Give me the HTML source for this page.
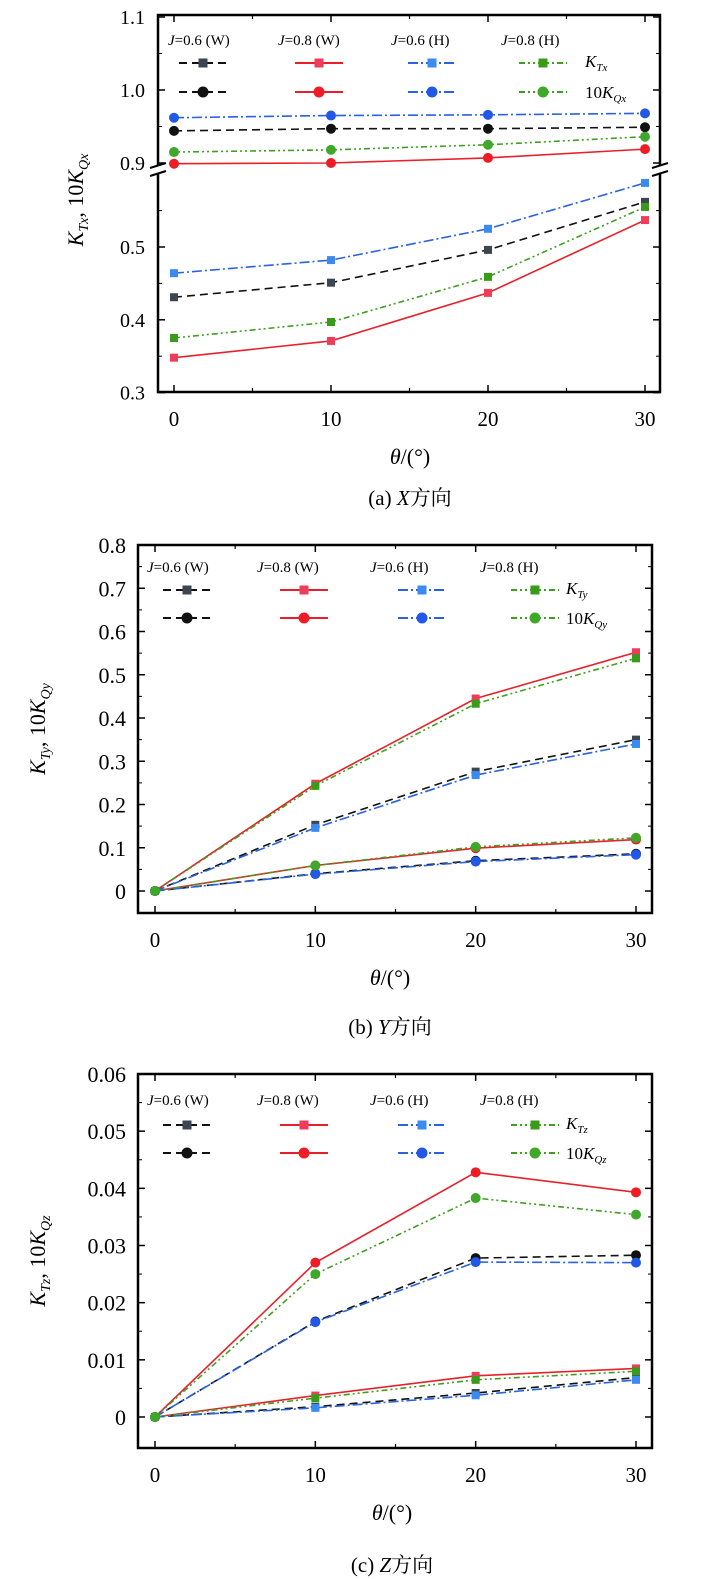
<!DOCTYPE html>
<html><head><meta charset="utf-8">
<style>
html,body{margin:0;padding:0;background:#fff;}
svg{display:block;font-family:"Liberation Serif","Noto Serif CJK SC",serif;}
</style></head>
<body>
<svg id="fig" width="709" height="1579" viewBox="0 0 709 1579" xmlns="http://www.w3.org/2000/svg"></svg>
<script>
// ---------- data ----------
const categories = [0, 10, 20, 30];
const xTickLabels = ["0", "10", "20", "30"];
const seriesNames = ["J=0.6 (W)", "J=0.8 (W)", "J=0.6 (H)", "J=0.8 (H)"];

// Panel (a) X direction
const aKT_W06 = [0.431, 0.451, 0.496, 0.562];
const aKT_W08 = [0.348, 0.371, 0.437, 0.537];
const aKT_H06 = [0.464, 0.482, 0.525, 0.588];
const aKT_H08 = [0.375, 0.397, 0.459, 0.555];
const aKQ_W06 = [0.944, 0.947, 0.947, 0.949];
const aKQ_W08 = [0.899, 0.900, 0.907, 0.919];
const aKQ_H06 = [0.962, 0.965, 0.966, 0.968];
const aKQ_H08 = [0.915, 0.918, 0.925, 0.936];
const aUpperTicks = ["0.9", "1.0", "1.1"];
const aLowerTicks = ["0.3", "0.4", "0.5"];

// Panel (b) Y direction
const bKT_W06 = [0, 0.153, 0.276, 0.350];
const bKT_W08 = [0, 0.248, 0.445, 0.552];
const bKT_H06 = [0, 0.146, 0.268, 0.340];
const bKT_H08 = [0, 0.243, 0.433, 0.538];
const bKQ_W06 = [0, 0.040, 0.070, 0.086];
const bKQ_W08 = [0, 0.059, 0.099, 0.119];
const bKQ_H06 = [0, 0.039, 0.068, 0.084];
const bKQ_H08 = [0, 0.059, 0.102, 0.123];
const bYTicks = ["0", "0.1", "0.2", "0.3", "0.4", "0.5", "0.6", "0.7", "0.8"];

// Panel (c) Z direction
const cKT_W06 = [0, 0.0018, 0.0042, 0.0069];
const cKT_W08 = [0, 0.00375, 0.0072, 0.0085];
const cKT_H06 = [0, 0.0016, 0.0038, 0.0065];
const cKT_H08 = [0, 0.0033, 0.0065, 0.0080];
const cKQ_W06 = [0, 0.0167, 0.0278, 0.0283];
const cKQ_W08 = [0, 0.0270, 0.0428, 0.0393];
const cKQ_H06 = [0, 0.0166, 0.0271, 0.0270];
const cKQ_H08 = [0, 0.0250, 0.0383, 0.0354];
const cYTicks = ["0", "0.01", "0.02", "0.03", "0.04", "0.05", "0.06"];

// ---------- helpers ----------
const NS = "http://www.w3.org/2000/svg";
const svg = document.getElementById("fig");
function mk(tag, attrs, parent) {
  const e = document.createElementNS(NS, tag);
  for (const k in attrs) e.setAttribute(k, attrs[k]);
  (parent || svg).appendChild(e);
  return e;
}
const styles = [
  {line: "#111", sq: "#3d4650", ci: "#111", dash: "8,5"},
  {line: "#e8202a", sq: "#ee3d5a", ci: "#ee1c24", dash: ""},
  {line: "#2a62e0", sq: "#3b8af0", ci: "#2158e8", dash: "10,3,2,3"},
  {line: "#3fa020", sq: "#3a9a1a", ci: "#3fa82a", dash: "6,3,2,3,2,3"}
];

function drawSeries(g, vals, sx, sy, st, marker, name) {
  const pts = vals.map((v, i) => sx(categories[i]) + "," + sy(v)).join(" ");
  const pl = mk("polyline", {points: pts, fill: "none", stroke: st.line, "stroke-width": 1.6, "stroke-dasharray": st.dash}, g);
  
  
  vals.forEach((v, i) => {
    let m;
    if (marker === "sq") {
      m = mk("rect", {x: sx(categories[i]) - 4, y: sy(v) - 4, width: 8, height: 8, fill: st.sq}, g);
    } else {
      m = mk("circle", {cx: sx(categories[i]), cy: sy(v), r: 5, fill: st.ci}, g);
    }
    
    
  });
}

function legend(g, P, sub) {
  seriesNames.forEach((s, i) => {
    const t = mk("text", {x: P.legX[i], y: P.legY, "font-size": 15}, g);
    t.innerHTML = '<tspan font-style="italic">J</tspan>' + s.slice(1);
    
    
    const cx = P.legMk[i];
    [0, 1].forEach(r => {
      const y = P.legRows[r];
      const ln = mk("line", {x1: cx - 24, x2: cx + 24, y1: y, y2: y, stroke: styles[i].line, "stroke-width": 2, "stroke-dasharray": styles[i].dash}, g);
      
      
      if (r === 0) mk("rect", {x: cx - 4.5, y: y - 4.5, width: 9, height: 9, fill: styles[i].sq}, g);
      else mk("circle", {cx: cx, cy: y, r: 5.5, fill: styles[i].ci}, g);
    });
  });
  const k1 = mk("text", {x: P.legLab, y: P.legRows[0] + 4, "font-size": 17, "font-style": "italic"}, g);
  k1.innerHTML = 'K<tspan font-size="11" dy="4">T' + sub + '</tspan>';
  
  
  const k2 = mk("text", {x: P.legLab, y: P.legRows[1] + 6, "font-size": 17}, g);
  k2.innerHTML = '10<tspan font-style="italic">K</tspan><tspan font-size="11" dy="4" font-style="italic">Q' + sub + '</tspan>';
  
  
}

function xAxis(g, P, sx) {
  const minor = [5, 15, 25];
  categories.forEach((c, i) => {
    mk("line", {x1: sx(c), x2: sx(c), y1: P.bottom, y2: P.bottom - 7, stroke: "#000", "stroke-width": 1.5}, g);
    mk("line", {x1: sx(c), x2: sx(c), y1: P.top, y2: P.top + 7, stroke: "#000", "stroke-width": 1.5}, g);
    const t = mk("text", {x: sx(c), y: P.bottom + 34, "font-size": 21, "text-anchor": "middle"}, g);
    t.textContent = xTickLabels[i];
    
    
  });
  minor.forEach(c => {
    mk("line", {x1: sx(c), x2: sx(c), y1: P.bottom, y2: P.bottom - 4, stroke: "#000", "stroke-width": 1.2}, g);
    mk("line", {x1: sx(c), x2: sx(c), y1: P.top, y2: P.top + 4, stroke: "#000", "stroke-width": 1.2}, g);
  });
  const xt = mk("text", {x: P.xTitleX, y: P.bottom + 72, "font-size": 22, "text-anchor": "middle"}, g);
  xt.innerHTML = '<tspan font-style="italic">θ</tspan>/(°)';
  
  
  const cap = mk("text", {x: P.xTitleX, y: P.bottom + P.capOff, "font-size": 21, "text-anchor": "middle"}, g);
  cap.innerHTML = P.cap[0] + ' <tspan font-style="italic">' + P.cap[1] + '</tspan>方向';
  
  
}

function yTitle(g, x, y, sub) {
  const t = mk("text", {x: 0, y: 0, "font-size": 22, "text-anchor": "middle", transform: "translate(" + x + "," + y + ") rotate(-90)"}, g);
  t.innerHTML = '<tspan font-style="italic">K</tspan><tspan font-style="italic" font-size="14" dy="5">T' + sub + '</tspan><tspan dy="-5">, 10</tspan><tspan font-style="italic">K</tspan><tspan font-style="italic" font-size="14" dy="5">Q' + sub + '</tspan>';
  
  
}

// ---------- Panel A (broken axis) ----------
(function () {
  const P = {left: 158, right: 660, top: 15, bottom: 392, x0: 174, x30: 645, xTitleX: 410, cap: ["(a)", "X"], capOff: 113,
    legX: [168, 278, 391, 501], legY: 45, legRows: [63, 92], legMk: [203, 319, 432, 543], legLab: 585};
  const g = mk("g", {});  
  const sx = v => P.x0 + (v - categories[0]) / (categories[3] - categories[0]) * (P.x30 - P.x0);
  const syU = v => 90 - (v - 1.0) * 730;
  const syL = v => 247 - (v - 0.5) * 728;
  mk("rect", {x: P.left, y: P.top, width: P.right - P.left, height: P.bottom - P.top, fill: "none", stroke: "#000", "stroke-width": 2.5}, g);
  mk("rect", {x: P.left - 3, y: 166, width: 6, height: 8, fill: "#fff"}, g);
  mk("rect", {x: P.right - 3, y: 166, width: 6, height: 8, fill: "#fff"}, g);
  [P.left, P.right].forEach(x => {
    mk("line", {x1: x - 8, y1: 168, x2: x + 8, y2: 163, stroke: "#000", "stroke-width": 2}, g);
    mk("line", {x1: x - 8, y1: 176, x2: x + 8, y2: 171, stroke: "#000", "stroke-width": 2}, g);
  });
  const up = [0.9, 1.0, 1.1], lo = [0.3, 0.4, 0.5];
  [[up, syU, aUpperTicks], [lo, syL, aLowerTicks]].forEach(([vals, sy, labs]) => {
    vals.forEach((v, i) => {
      mk("line", {x1: P.left, x2: P.left + 7, y1: sy(v), y2: sy(v), stroke: "#000", "stroke-width": 1.5}, g);
      mk("line", {x1: P.right, x2: P.right - 7, y1: sy(v), y2: sy(v), stroke: "#000", "stroke-width": 1.5}, g);
      const t = mk("text", {x: P.left - 13, y: sy(v) + 7, "font-size": 20, "text-anchor": "end"}, g);
      t.textContent = labs[i];
      
      
    });
  });
  [0.95, 1.05].forEach(v => { mk("line", {x1: P.left, x2: P.left + 4, y1: syU(v), y2: syU(v), stroke: "#000"}, g); mk("line", {x1: P.right, x2: P.right - 4, y1: syU(v), y2: syU(v), stroke: "#000"}, g); });
  [0.35, 0.45, 0.55].forEach(v => { mk("line", {x1: P.left, x2: P.left + 4, y1: syL(v), y2: syL(v), stroke: "#000"}, g); mk("line", {x1: P.right, x2: P.right - 4, y1: syL(v), y2: syL(v), stroke: "#000"}, g); });
  xAxis(g, P, sx);
  yTitle(g, 83, 200, "x");
  legend(g, P, "x");
  const kt = [aKT_W06, aKT_W08, aKT_H06, aKT_H08], kq = [aKQ_W06, aKQ_W08, aKQ_H06, aKQ_H08];
  kq.forEach((s, i) => drawSeries(g, s, sx, syU, styles[i], "ci", "kq-series"));
  kt.forEach((s, i) => drawSeries(g, s, sx, syL, styles[i], "sq", "kt-series"));
})();

// ---------- Panels B & C ----------
function panel(P, ticks, yMax, yMin, kt, kq, sub, name) {
  const g = mk("g", {});  
  const sx = v => P.x0 + (v - categories[0]) / (categories[3] - categories[0]) * (P.x30 - P.x0);
  const sy = v => P.y0 - v / yMax * (P.y0 - P.top);
  mk("rect", {x: P.left, y: P.top, width: P.right - P.left, height: P.bottom - P.top, fill: "none", stroke: "#000", "stroke-width": 2.5}, g);
  const step = yMax / (ticks.length - 1);
  ticks.forEach((lab, i) => {
    const v = i * step;
    mk("line", {x1: P.left, x2: P.left + 7, y1: sy(v), y2: sy(v), stroke: "#000", "stroke-width": 1.5}, g);
    mk("line", {x1: P.right, x2: P.right - 7, y1: sy(v), y2: sy(v), stroke: "#000", "stroke-width": 1.5}, g);
    const t = mk("text", {x: P.left - 12, y: sy(v) + 8, "font-size": 22, "text-anchor": "end"}, g);
    t.textContent = lab;
    
    
  });
  for (let i = 0; i < ticks.length - 1; i++) {
    const v = (i + 0.5) * step;
    mk("line", {x1: P.left, x2: P.left + 4, y1: sy(v), y2: sy(v), stroke: "#000"}, g);
    mk("line", {x1: P.right, x2: P.right - 4, y1: sy(v), y2: sy(v), stroke: "#000"}, g);
  }
  xAxis(g, P, sx);
  yTitle(g, P.yTitleX, (P.top + P.bottom) / 2, sub);
  legend(g, P, sub);
  kt.forEach((s, i) => drawSeries(g, s, sx, sy, styles[i], "sq", "kt-series"));
  kq.forEach((s, i) => drawSeries(g, s, sx, sy, styles[i], "ci", "kq-series"));
}
panel({left: 138, right: 652, top: 545, bottom: 913, y0: 891, x0: 155, x30: 636, xTitleX: 390, cap: ["(b)", "Y"], capOff: 121, yTitleX: 45,
  legX: [147, 257, 370, 480], legY: 572, legRows: [590, 618], legMk: [187, 304, 422, 535], legLab: 566},
  bYTicks, 0.8, -0.05, [bKT_W06, bKT_W08, bKT_H06, bKT_H08], [bKQ_W06, bKQ_W08, bKQ_H06, bKQ_H08], "y", "panel-b-chart");
panel({left: 138, right: 652, top: 1074, bottom: 1448, y0: 1417, x0: 155, x30: 636, xTitleX: 392, cap: ["(c)", "Z"], capOff: 124, yTitleX: 45,
  legX: [147, 257, 370, 480], legY: 1105, legRows: [1125, 1153], legMk: [187, 304, 422, 535], legLab: 566},
  cYTicks, 0.06, -0.005, [cKT_W06, cKT_W08, cKT_H06, cKT_H08], [cKQ_W06, cKQ_W08, cKQ_H06, cKQ_H08], "z", "panel-c-chart");
</script>
</body></html>
